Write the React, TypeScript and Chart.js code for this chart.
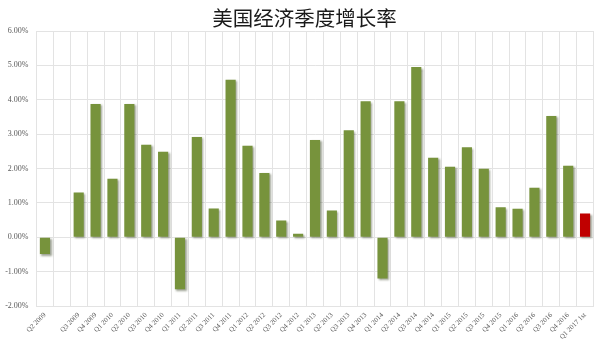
import React, { useEffect, useRef } from "react";
import { Chart, registerables } from "chart.js";

Chart.register(...registerables);

// Quarter labels (one empty slot after the first quarter)
const quarters: string[] = [
  "Q2 2009", "",
  "Q3 2009", "Q4 2009",
  "Q1 2010", "Q2 2010", "Q3 2010", "Q4 2010",
  "Q1 2011", "Q2 2011", "Q3 2011", "Q4 2011",
  "Q1 2012", "Q2 2012", "Q3 2012", "Q4 2012",
  "Q1 2013", "Q2 2013", "Q3 2013", "Q4 2013",
  "Q1 2014", "Q2 2014", "Q3 2014", "Q4 2014",
  "Q1 2015", "Q2 2015", "Q3 2015", "Q4 2015",
  "Q1 2016", "Q2 2016", "Q3 2016", "Q4 2016",
  "Q1 2017 1st",
];

// Quarterly growth rate, percent
const growth: (number | null)[] = [
  -0.49, null,
  1.3, 3.88,
  1.7, 3.88, 2.69, 2.49,
  -1.51, 2.92, 0.84, 4.58,
  2.66, 1.87, 0.49, 0.1,
  2.83, 0.78, 3.11, 3.96,
  -1.2, 3.96, 4.95, 2.31,
  2.05, 2.62, 1.99, 0.87,
  0.83, 1.44, 3.53, 2.08,
  0.69,
];

const yTicks = { min: -2, max: 6, step: 1 };

const TITLE = "美国经济季度增长率";
const GREEN = "#77933C";
const RED = "#C00000";

const barShadow = {
  id: "barShadow",
  beforeDatasetsDraw(chart: any) {
    const ctx = chart.ctx;
    ctx.save();
    ctx.shadowColor = "rgba(40,50,20,0.45)";
    ctx.shadowBlur = 2;
    ctx.shadowOffsetX = 1.5;
    ctx.shadowOffsetY = 1.5;
  },
  afterDatasetsDraw(chart: any) {
    chart.ctx.restore();
  },
};

const whiteBg = {
  id: "whiteBg",
  beforeDraw(chart: any) {
    const ctx = chart.ctx;
    ctx.save();
    ctx.fillStyle = "#ffffff";
    ctx.fillRect(0, 0, chart.width, chart.height);
    ctx.restore();
  },
};

// Heading drawn slightly right of the canvas centre, above the plot
const heading = {
  id: "heading",
  afterDraw(chart: any) {
    const ctx = chart.ctx;
    ctx.save();
    ctx.fillStyle = "#1a1a1a";
    ctx.font = "20.5px 'Noto Sans CJK SC', sans-serif";
    ctx.textAlign = "center";
    ctx.textBaseline = "middle";
    ctx.fillText(TITLE, 304.5, 18.5);
    ctx.restore();
  },
};

export default function App() {
  const canvasRef = useRef<HTMLCanvasElement | null>(null);

  useEffect(() => {
    if (!canvasRef.current) return;
    const colors = growth.map((_, i) => (i === growth.length - 1 ? RED : GREEN));
    const chart = new Chart(canvasRef.current, {
      type: "bar",
      data: {
        labels: quarters,
        datasets: [
          {
            data: growth,
            backgroundColor: colors,
            borderWidth: 0,
            categoryPercentage: 1,
            barPercentage: 0.6,
          },
        ],
      },
      plugins: [whiteBg, barShadow, heading],
      options: {
        animation: false,
        responsive: true,
        maintainAspectRatio: false,
        layout: { padding: { left: 0, right: 6.5, top: 31, bottom: 0 } },
        plugins: {
          legend: { display: false },
          tooltip: { enabled: false },
          title: { display: false },
        },
        scales: {
          x: {
            offset: true,
            grid: { color: "#e3e3e3", offset: true, drawTicks: false },
            border: { color: "#e3e3e3" },
            ticks: {
              autoSkip: false,
              minRotation: 45,
              maxRotation: 45,
              padding: 5,
              color: "#595959",
              font: { family: "'Liberation Serif', 'DejaVu Serif', serif", size: 7 },
            },
            afterFit: (scale: any) => {
              scale.height = 34;
            },
          },
          y: {
            min: yTicks.min,
            max: yTicks.max,
            grid: { color: "#e3e3e3", drawTicks: false },
            border: { color: "#e3e3e3" },
            ticks: {
              stepSize: yTicks.step,
              padding: 8,
              color: "#595959",
              font: { family: "'Liberation Serif', 'DejaVu Serif', serif", size: 8 },
              callback: (v: any) => Number(v).toFixed(2) + "%",
            },
            afterFit: (scale: any) => {
              scale.width = 36.5;
            },
          },
        },
      },
    });
    return () => chart.destroy();
  }, []);

  return (
    <div style={{ position: "fixed", left: 0, top: 0, width: 600, height: 340, background: "#fff" }}>
      <canvas ref={canvasRef} />
    </div>
  );
}
